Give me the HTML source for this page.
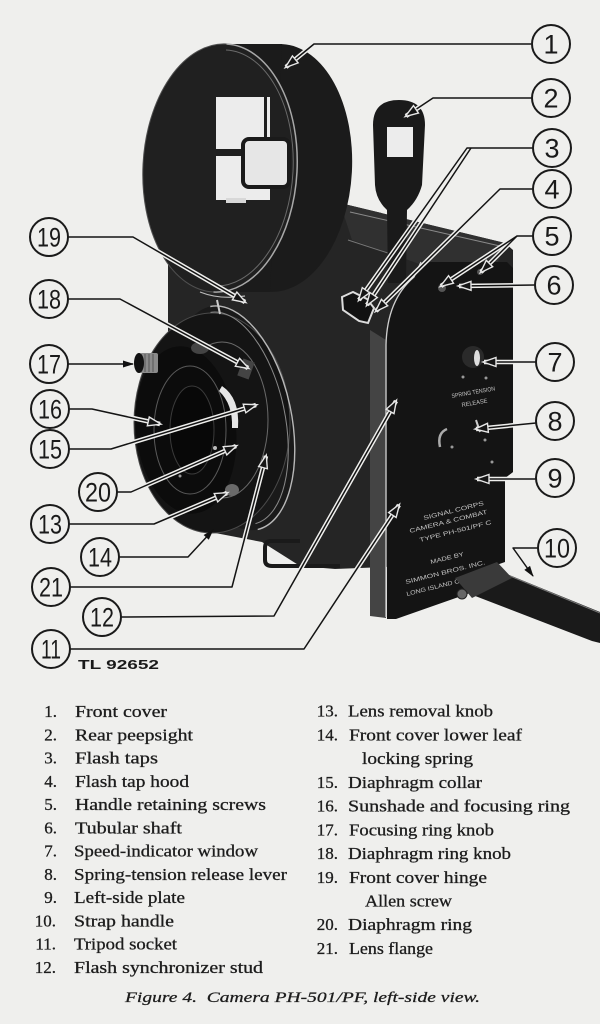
<!DOCTYPE html>
<html><head><meta charset="utf-8"><style>
html,body{margin:0;padding:0;background:#efefed}
svg{display:block}
.sf{font-family:"Liberation Serif","DejaVu Serif",serif}
.ss{font-family:"Liberation Sans","DejaVu Sans",sans-serif}
</style></head>
<body>
<svg width="600" height="1024" viewBox="0 0 600 1024" xmlns="http://www.w3.org/2000/svg">
<defs>
<marker id="a" markerWidth="16" markerHeight="12" refX="12" refY="4.5" orient="auto" markerUnits="userSpaceOnUse" overflow="visible"><path d="M0,0 L13,4.5 L0,9 Z" fill="#151515" stroke="#e6e6e6" stroke-width="1.4"/></marker>
<marker id="b" markerWidth="14" markerHeight="10" refX="10" refY="3.5" orient="auto" markerUnits="userSpaceOnUse" overflow="visible"><path d="M0,0 L11,3.5 L0,7 Z" fill="#111"/></marker>
</defs>
<rect width="600" height="1024" fill="#efefed"/>

<!-- camera body -->
<path d="M168,258 L340,203 L505,243 L513,250 L513,472 L505,478 L505,562 L335,569 L300,566 L262,542 L210,532 L178,520 L168,480 Z" fill="#252525"/>
<path d="M340,203 L505,243 L498,262 L425,266 L352,240 Z" fill="#303030"/>
<path d="M350,212 L500,246" stroke="#8a8a8a" stroke-width="1" fill="none"/>
<path d="M348,240 L397,256" stroke="#777" stroke-width="1" fill="none"/>
<path d="M370,330 L386,340 L386,618 L370,616 Z" fill="#444"/>
<path d="M387,345 Q388,300 415,277 L422,262 L507,262 L513,268 L513,472 L505,478 L505,562 L488,568 L470,593 L396,619 L387,619 Z" fill="#141414"/>
<path d="M386,617 L386,345 Q387,300 414,277 L421,262" stroke="#cfcfcf" stroke-width="1.3" fill="none"/>
<circle cx="442" cy="288" r="4" fill="#555"/>
<circle cx="480" cy="272" r="3" fill="#555"/>

<!-- speed window & plate details -->
<circle cx="473" cy="357" r="11" fill="#2a2a2a"/>
<ellipse cx="477" cy="358" rx="3" ry="8" fill="#dedede"/>
<circle cx="463" cy="377" r="1.5" fill="#999"/><circle cx="486" cy="378" r="1.5" fill="#999"/>
<path d="M476,420 L480,432" stroke="#ccc" stroke-width="2"/>
<path d="M440,447 Q437,433 447,429" stroke="#aaa" stroke-width="2.5" fill="none"/>
<circle cx="452" cy="447" r="1.5" fill="#999"/><circle cx="485" cy="440" r="1.5" fill="#999"/><circle cx="492" cy="462" r="1.5" fill="#999"/>
<g class="ss" fill="#c4c4c4" font-size="6">
<text x="452" y="398" transform="rotate(-10 452 398)" textLength="44" lengthAdjust="spacingAndGlyphs">SPRING TENSION</text>
<text x="462" y="407" transform="rotate(-10 462 407)" textLength="26" lengthAdjust="spacingAndGlyphs">RELEASE</text>
<text x="424" y="520" transform="rotate(-14 424 520)" textLength="62" lengthAdjust="spacingAndGlyphs">SIGNAL CORPS</text>
<text x="410" y="533" transform="rotate(-14 410 533)" textLength="80" lengthAdjust="spacingAndGlyphs">CAMERA &amp; COMBAT</text>
<text x="420" y="542" transform="rotate(-14 420 542)" textLength="74" lengthAdjust="spacingAndGlyphs">TYPE PH-501/PF C</text>
<text x="431" y="564" transform="rotate(-14 431 564)" textLength="34" lengthAdjust="spacingAndGlyphs">MADE BY</text>
<text x="406" y="584" transform="rotate(-14 406 584)" textLength="82" lengthAdjust="spacingAndGlyphs">SIMMON BROS. INC.</text>
<text x="407" y="596" transform="rotate(-14 407 596)" textLength="80" lengthAdjust="spacingAndGlyphs">LONG ISLAND CITY N.Y.</text>
</g>

<!-- strap handle -->
<path d="M470,594 L487,566 L600,612 L600,643 L592,641 Z" fill="#1a1a1a"/>
<path d="M488,567 L600,613" stroke="#777" stroke-width="1"/>
<path d="M455,578 L497,562 L512,578 L472,598 Z" fill="#3a3a3a"/>
<circle cx="462" cy="594" r="5" fill="#666" stroke="#222" stroke-width="1"/>

<!-- bottom bracket -->
<path d="M300,541 L271,541 Q265,541 265,548 L265,560 Q265,566 272,566 L340,566" fill="none" stroke="#1a1a1a" stroke-width="4"/>

<!-- front cover -->
<g fill="#1b1b1b">
<ellipse cx="276" cy="168" rx="76" ry="124" transform="rotate(3 276 168)"/>
<polygon points="226,44 282,44 270,292 214,292"/>
<ellipse cx="220" cy="168" rx="77" ry="124" transform="rotate(3 220 168)" fill="#202020"/>
</g>
<path d="M226.5,44 A77,124 3 0 1 213.5,292" fill="none" stroke="#a8a8a8" stroke-width="1.5"/>
<path d="M226,50 A73,118 3 0 1 214,286" fill="none" stroke="#6a6a6a" stroke-width="1"/>
<path d="M226.5,44 A77,124 3 0 0 213.5,292" fill="none" stroke="#505050" stroke-width="1"/>
<rect x="216" y="97" width="54" height="103" fill="#ececec"/>
<rect x="216" y="149" width="30" height="7" fill="#1f1f1f"/>
<rect x="264" y="97" width="3" height="42" fill="#1f1f1f"/>
<rect x="243" y="139" width="46" height="48" rx="6" fill="#e6e6e6" stroke="#1a1a1a" stroke-width="4"/>
<rect x="226" y="198" width="20" height="5" fill="#d8d8d8"/>

<!-- rear peepsight -->
<path d="M373,125 Q373,100 399,100 Q425,100 425,125 L422,185 Q418,200 407,210 L406,283 L388,283 L387,210 Q376,200 375,185 Z" fill="#1a1a1a"/>
<rect x="387" y="127" width="26" height="30" fill="#ececec"/>

<!-- flash tap hood -->
<path d="M342,297 L353,292 L367,299 L374,308 L368,323 L359,321 L343,310 Z" fill="#111" stroke="#dcdcdc" stroke-width="2"/>

<!-- lens -->
<ellipse cx="234" cy="418" rx="58" ry="114" transform="rotate(-12 234 418)" fill="#1a1a1a"/>
<ellipse cx="212" cy="423" rx="78" ry="110" fill="#141414" stroke="#4a4a4a" stroke-width="1"/>
<path d="M210.3,306.5 A58,114 -12 0 1 257.7,529.5" fill="none" stroke="#b8b8b8" stroke-width="1.4"/>
<path d="M210.5,312.4 A53,108 -12 0 1 255.5,523.6" fill="none" stroke="#8a8a8a" stroke-width="1"/>
<path d="M200,292 Q220,300 245,296" stroke="#bbb" stroke-width="1.2" fill="none"/>
<path d="M217,300 L220,314" stroke="#ccc" stroke-width="2"/>
<ellipse cx="222" cy="420" rx="46" ry="78" fill="none" stroke="#6a6a6a" stroke-width="1"/>
<ellipse cx="186" cy="430" rx="50" ry="84" transform="rotate(-6 186 430)" fill="#0c0c0c"/>
<ellipse cx="190" cy="430" rx="36" ry="64" fill="none" stroke="#5a5a5a" stroke-width="1"/>
<ellipse cx="192" cy="430" rx="22" ry="44" fill="#080808" stroke="#3a3a3a" stroke-width="1"/>
<path d="M222,386 Q240,398 238,428 L232,428 Q233,404 219,391 Z" fill="#e6e6e6"/>
<ellipse cx="200" cy="348" rx="9" ry="6" fill="#444"/>
<circle cx="215" cy="448" r="2" fill="#bbb"/><circle cx="180" cy="476" r="1.5" fill="#999"/>
<rect x="140" y="353" width="18" height="20" rx="2" fill="#8a8a8a"/>
<path d="M145,354 V372 M149,354 V372 M153,354 V372" stroke="#555" stroke-width="1"/>
<ellipse cx="139" cy="363" rx="5" ry="10" fill="#111"/>
<rect x="240" y="360" width="12" height="18" fill="#444" transform="rotate(20 246 369)"/>
<ellipse cx="232" cy="490" rx="7" ry="6" fill="#6a6a6a"/>

<!-- leader halos -->
<g fill="none" stroke="#efefed" stroke-width="4.5" stroke-linejoin="round">
<polyline points="531,44 314,44 286,67"/>
<polyline points="532,98 433,98 406,116"/>
<polyline points="533,148 467,148 359,300"/>
<polyline points="471,148 367,305"/>
<polyline points="533,189 500,189 376,311"/>
<polyline points="533,236 517,236 441,286"/>
<polyline points="517,236 481,272"/>
<polyline points="535,285 459,286"/>
<polyline points="536,362 484,362"/>
<polyline points="536,423 476,429"/>
<polyline points="536,479 477,479"/>
<polyline points="68,237 133,237 245,302"/>
<polyline points="68,299 120,299 248,368"/>
<polyline points="69,409 92,409 160,424"/>
<polyline points="69,449 111,449 256,405"/>
<polyline points="117,492 131,492 236,446"/>
<polyline points="69,524 154,524 227,493"/>
<polyline points="70,587 232,587 266,456"/>
<polyline points="121,617 274,616 396,401"/>
<polyline points="70,649 304,649 399,505"/>
</g>
<!-- leader lines -->
<g fill="none" stroke="#141414" stroke-width="1.5" stroke-linejoin="round">
<polyline points="531,44 314,44 286,67" marker-end="url(#a)"/>
<polyline points="532,98 433,98 406,116" marker-end="url(#a)"/>
<polyline points="533,148 467,148 359,300" marker-end="url(#a)"/>
<polyline points="471,148 367,305" marker-end="url(#a)"/>
<polyline points="533,189 500,189 376,311" marker-end="url(#a)"/>
<polyline points="533,236 517,236 441,286" marker-end="url(#a)"/>
<polyline points="517,236 481,272" marker-end="url(#a)"/>
<polyline points="535,285 459,286" marker-end="url(#a)"/>
<polyline points="536,362 484,362" marker-end="url(#a)"/>
<polyline points="536,423 476,429" marker-end="url(#a)"/>
<polyline points="536,479 477,479" marker-end="url(#a)"/>
<polyline points="538,548 513,548 533,576" marker-end="url(#b)"/>
<polyline points="68,237 133,237 245,302" marker-end="url(#a)"/>
<polyline points="68,299 120,299 248,368" marker-end="url(#a)"/>
<polyline points="68,364 133,364" marker-end="url(#b)"/>
<polyline points="69,409 92,409 160,424" marker-end="url(#a)"/>
<polyline points="69,449 111,449 256,405" marker-end="url(#a)"/>
<polyline points="117,492 131,492 236,446" marker-end="url(#a)"/>
<polyline points="69,524 154,524 227,493" marker-end="url(#a)"/>
<polyline points="119,557 188,557 213,530" marker-end="url(#b)"/>
<polyline points="70,587 232,587 266,456" marker-end="url(#a)"/>
<polyline points="121,617 274,616 396,401" marker-end="url(#a)"/>
<polyline points="70,649 304,649 399,505" marker-end="url(#a)"/>
</g>

<!-- callout circles -->
<g fill="#efefed" stroke="#1a1a1a" stroke-width="2">
<circle cx="551" cy="44" r="19"/><circle cx="551" cy="98" r="19"/><circle cx="552" cy="148" r="19"/>
<circle cx="552" cy="189" r="19"/><circle cx="552" cy="236" r="19"/><circle cx="554" cy="285" r="19"/>
<circle cx="555" cy="362" r="19"/><circle cx="555" cy="421" r="19"/><circle cx="555" cy="478" r="19"/>
<circle cx="557" cy="548" r="19"/>
<circle cx="49" cy="237" r="19"/><circle cx="49" cy="299" r="19"/><circle cx="49" cy="364" r="19"/>
<circle cx="50" cy="409" r="19"/><circle cx="50" cy="449" r="19"/><circle cx="98" cy="492" r="19"/>
<circle cx="50" cy="524" r="19"/><circle cx="100" cy="557" r="19"/><circle cx="51" cy="587" r="19"/>
<circle cx="102" cy="617" r="19"/><circle cx="51" cy="649" r="19"/>
</g>
<g class="ss" fill="#1a1a1a" font-size="27" text-anchor="middle">
<text x="551" y="53.5">1</text><text x="551" y="107.5">2</text><text x="552" y="157.5">3</text>
<text x="552" y="198.5">4</text><text x="552" y="245.5">5</text><text x="554" y="294.5">6</text>
<text x="555" y="371.5">7</text><text x="555" y="430.5">8</text><text x="555" y="487.5">9</text>
<text x="557" y="557.5" textLength="26" lengthAdjust="spacingAndGlyphs">10</text>
<text x="49" y="246.5" textLength="24" lengthAdjust="spacingAndGlyphs">19</text>
<text x="49" y="308.5" textLength="24" lengthAdjust="spacingAndGlyphs">18</text>
<text x="49" y="373.5" textLength="24" lengthAdjust="spacingAndGlyphs">17</text>
<text x="50" y="418.5" textLength="24" lengthAdjust="spacingAndGlyphs">16</text>
<text x="50" y="458.5" textLength="24" lengthAdjust="spacingAndGlyphs">15</text>
<text x="98" y="501.5" textLength="26" lengthAdjust="spacingAndGlyphs">20</text>
<text x="50" y="533.5" textLength="24" lengthAdjust="spacingAndGlyphs">13</text>
<text x="100" y="566.5" textLength="24" lengthAdjust="spacingAndGlyphs">14</text>
<text x="51" y="596.5" textLength="24" lengthAdjust="spacingAndGlyphs">21</text>
<text x="102" y="626.5" textLength="24" lengthAdjust="spacingAndGlyphs">12</text>
<text x="51" y="658.5" textLength="20" lengthAdjust="spacingAndGlyphs">11</text>
</g>
<text class="ss" x="78" y="669" font-weight="bold" font-size="13" fill="#1a1a1a" textLength="81" lengthAdjust="spacingAndGlyphs">TL 92652</text>

<!-- legend -->
<g class="sf" font-size="17" fill="#1c1c1c" stroke="#1c1c1c" stroke-width="0.3">
<g text-anchor="end">
<text x="57" y="717">1.</text><text x="57" y="740.3">2.</text><text x="57" y="763.5">3.</text>
<text x="57" y="786.8">4.</text><text x="57" y="810.1">5.</text><text x="57" y="833.4">6.</text>
<text x="57" y="856.6">7.</text><text x="57" y="879.9">8.</text><text x="57" y="903.2">9.</text>
<text x="56" y="926.4">10.</text><text x="56" y="949.7">11.</text><text x="56" y="973">12.</text>
<text x="338" y="716.7">13.</text><text x="338" y="740.4">14.</text>
<text x="338" y="787.9">15.</text><text x="338" y="811.6">16.</text><text x="338" y="835.3">17.</text>
<text x="338" y="859">18.</text><text x="338" y="882.8">19.</text>
<text x="338" y="930.2">20.</text><text x="338" y="954">21.</text>
</g>
<text x="75" y="717" textLength="92" lengthAdjust="spacingAndGlyphs">Front cover</text>
<text x="75" y="740.3" textLength="118" lengthAdjust="spacingAndGlyphs">Rear peepsight</text>
<text x="75" y="763.5" textLength="83" lengthAdjust="spacingAndGlyphs">Flash taps</text>
<text x="75" y="786.8" textLength="114" lengthAdjust="spacingAndGlyphs">Flash tap hood</text>
<text x="75" y="810.1" textLength="191" lengthAdjust="spacingAndGlyphs">Handle retaining screws</text>
<text x="75" y="833.4" textLength="107" lengthAdjust="spacingAndGlyphs">Tubular shaft</text>
<text x="74" y="856.6" textLength="184" lengthAdjust="spacingAndGlyphs">Speed-indicator window</text>
<text x="74" y="879.9" textLength="213" lengthAdjust="spacingAndGlyphs">Spring-tension release lever</text>
<text x="74" y="903.2" textLength="111" lengthAdjust="spacingAndGlyphs">Left-side plate</text>
<text x="74" y="926.4" textLength="100" lengthAdjust="spacingAndGlyphs">Strap handle</text>
<text x="74" y="949.7" textLength="103" lengthAdjust="spacingAndGlyphs">Tripod socket</text>
<text x="74" y="973" textLength="189" lengthAdjust="spacingAndGlyphs">Flash synchronizer stud</text>

<text x="348" y="716.7" textLength="145" lengthAdjust="spacingAndGlyphs">Lens removal knob</text>
<text x="349" y="740.4" textLength="173" lengthAdjust="spacingAndGlyphs">Front cover lower leaf</text>
<text x="362" y="764.2" textLength="111" lengthAdjust="spacingAndGlyphs">locking spring</text>
<text x="348" y="787.9" textLength="134" lengthAdjust="spacingAndGlyphs">Diaphragm collar</text>
<text x="348" y="811.6" textLength="222" lengthAdjust="spacingAndGlyphs">Sunshade and focusing ring</text>
<text x="349" y="835.3" textLength="145" lengthAdjust="spacingAndGlyphs">Focusing ring knob</text>
<text x="348" y="859" textLength="163" lengthAdjust="spacingAndGlyphs">Diaphragm ring knob</text>
<text x="349" y="882.8" textLength="138" lengthAdjust="spacingAndGlyphs">Front cover hinge</text>
<text x="365" y="906.5" textLength="87" lengthAdjust="spacingAndGlyphs">Allen screw</text>
<text x="348" y="930.2" textLength="124" lengthAdjust="spacingAndGlyphs">Diaphragm ring</text>
<text x="349" y="954" textLength="84" lengthAdjust="spacingAndGlyphs">Lens flange</text>
</g>
<text class="sf" x="125" y="1002" font-style="italic" font-size="15" fill="#1c1c1c" stroke="#1c1c1c" stroke-width="0.25" textLength="355" lengthAdjust="spacingAndGlyphs" xml:space="preserve">Figure 4.  Camera PH-501/PF, left-side view.</text>
</svg>
</body></html>
